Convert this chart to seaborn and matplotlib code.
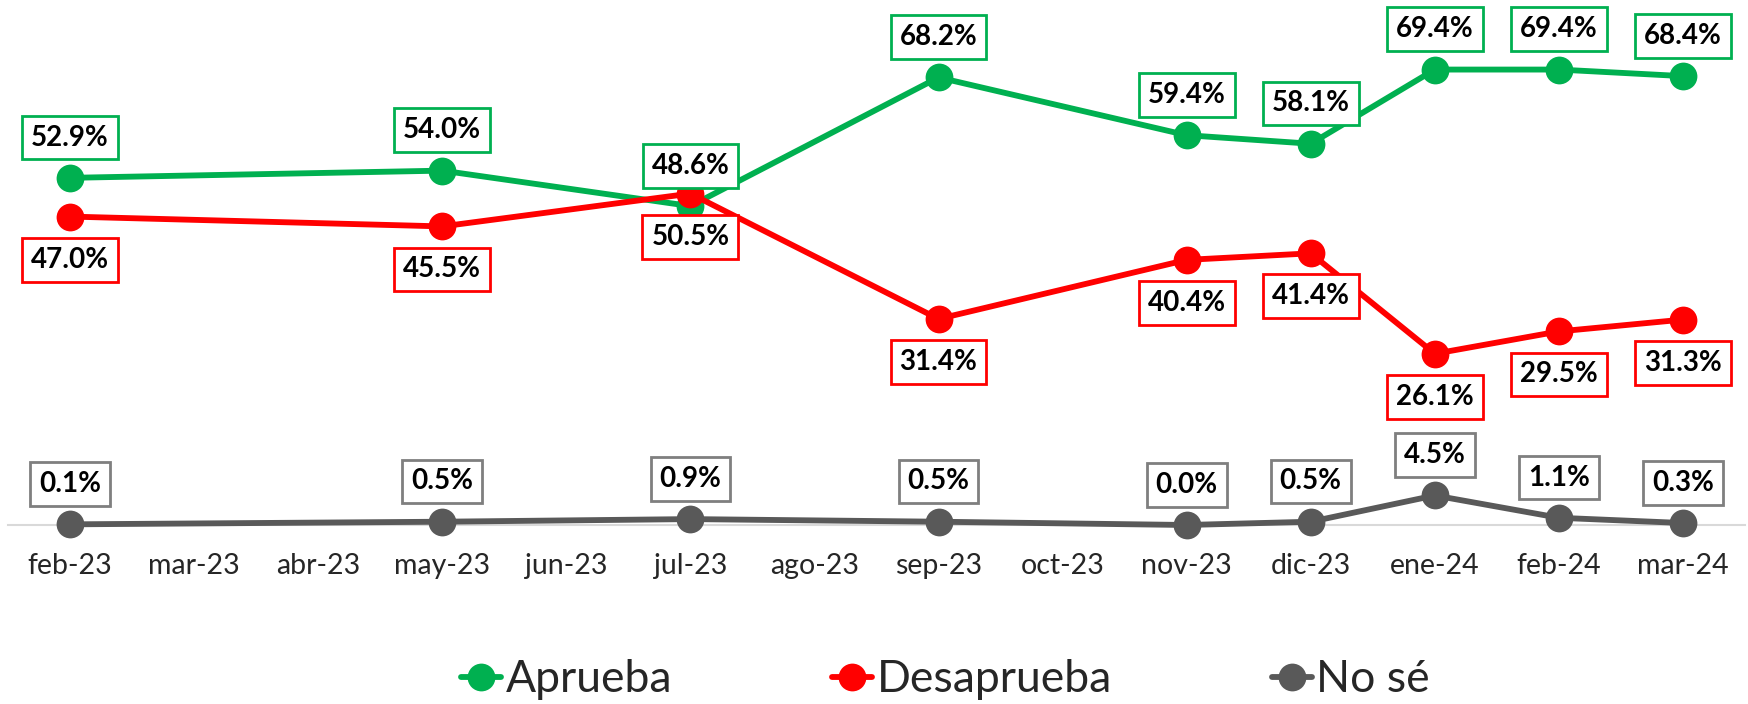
import matplotlib
matplotlib.use("Agg")
import matplotlib.pyplot as plt
from matplotlib.lines import Line2D
import pandas as pd
import seaborn as sns

months = ["feb-23", "mar-23", "abr-23", "may-23", "jun-23", "jul-23", "ago-23",
          "sep-23", "oct-23", "nov-23", "dic-23", "ene-24", "feb-24", "mar-24"]
survey_months = ["feb-23", "may-23", "jul-23", "sep-23", "nov-23", "dic-23",
                 "ene-24", "feb-24", "mar-24"]
aprueba = [52.9, 54.0, 48.6, 68.2, 59.4, 58.1, 69.4, 69.4, 68.4]
desaprueba = [47.0, 45.5, 50.5, 31.4, 40.4, 41.4, 26.1, 29.5, 31.3]
no_se = [0.1, 0.5, 0.9, 0.5, 0.0, 0.5, 4.5, 1.1, 0.3]

series = ["Aprueba", "Desaprueba", "No sé"]
colors = {"Aprueba": "#00B050", "Desaprueba": "#FF0000", "No sé": "#595959"}
box_colors = {"Aprueba": "#00B050", "Desaprueba": "#FF0000", "No sé": "#7F7F7F"}
# label offset in points (positive = above the point)
offsets = {"Aprueba": 29, "Desaprueba": -31, "No sé": 29}

rows = []
for name, vals in zip(series, [aprueba, desaprueba, no_se]):
    for m, v in zip(survey_months, vals):
        rows.append({"mes": m, "pos": months.index(m), "valor": v, "serie": name})
df = pd.DataFrame(rows)

sns.set_style("white")
plt.rcParams["font.family"] = ["Lato", "DejaVu Sans"]

fig = plt.figure(figsize=(17.48, 7.04), dpi=100)
ax = fig.add_axes([8 / 1748, 179 / 704, 1737 / 1748, 525 / 704])

sns.lineplot(data=df, x="pos", y="valor", hue="serie", hue_order=series,
             palette=colors, marker="o", markersize=20, markeredgewidth=0,
             linewidth=4.2, legend=False, ax=ax)
for l in ax.lines:
    l.set_clip_on(False)

for _, r in df.iterrows():
    ax.annotate(f"{r['valor']:.1f}%", (r["pos"], r["valor"]),
                xytext=(0, offsets[r["serie"]]), textcoords="offset points",
                ha="center", va="center", fontsize=20, fontweight="bold",
                color="black", zorder=5, annotation_clip=False,
                bbox=dict(boxstyle="square,pad=0.32", fc="white",
                          ec=box_colors[r["serie"]], lw=2))

ax.set_xlim(-0.5, 13.5)
ax.set_ylim(0, 80)
ax.set_xticks(range(len(months)))
ax.set_xticklabels(months, fontsize=20.5)
ax.set_yticks([])
ax.set_xlabel("")
ax.set_ylabel("")
ax.tick_params(axis="x", length=0, pad=20)
for s in ["top", "left", "right"]:
    ax.spines[s].set_visible(False)
ax.spines["bottom"].set_color("#D9D9D9")
ax.spines["bottom"].set_linewidth(1.5)
ax.spines["bottom"].set_zorder(0)

handles = [Line2D([0], [0], color=colors[s], lw=4.2, marker="o", markersize=20,
                  markeredgewidth=0) for s in series]
fig.legend(handles, series, loc="center", bbox_to_anchor=(0.541, 1 - 680 / 704),
           ncol=3, frameon=False, fontsize=32, handlelength=0.9,
           handletextpad=0.1, columnspacing=3.6)

fig.savefig("out.png", dpi=100, facecolor="white")
